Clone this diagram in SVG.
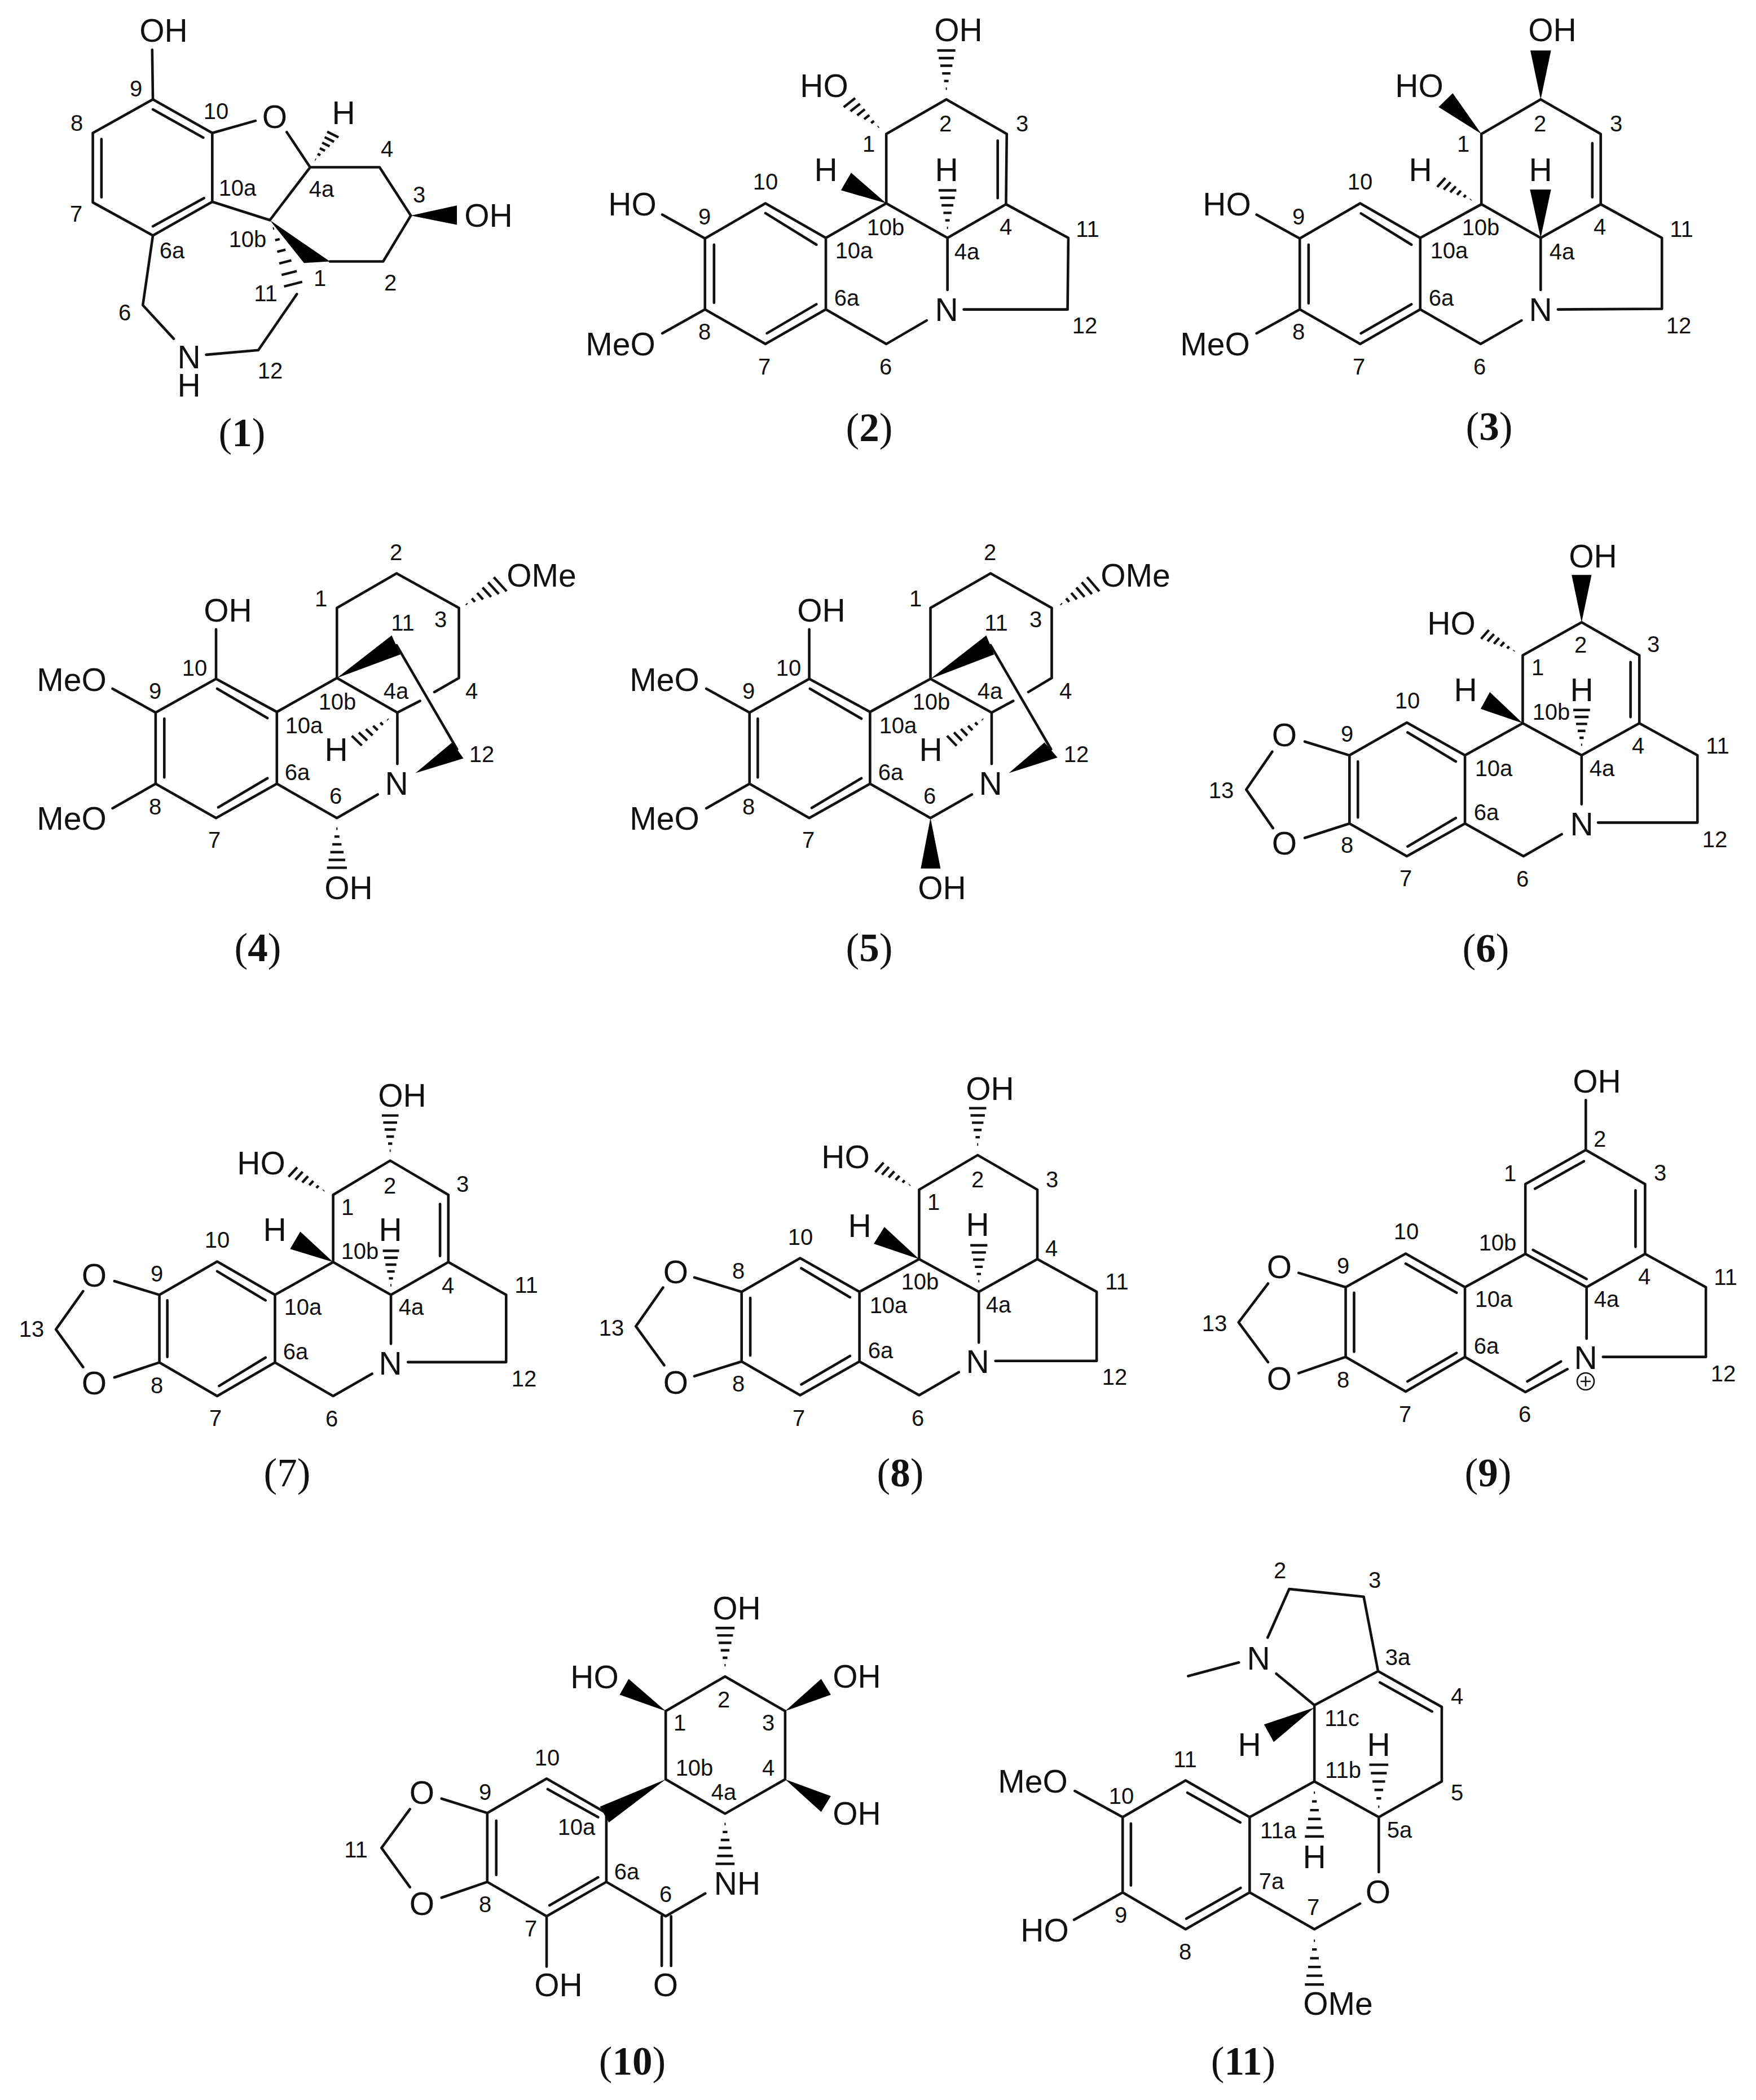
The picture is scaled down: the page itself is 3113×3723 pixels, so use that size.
<svg xmlns="http://www.w3.org/2000/svg" width="3113" height="3723" viewBox="0 0 3113 3723">
<style>
.bg{fill:#fff}
.b{fill:none;stroke:#111;stroke-width:4.6;vector-effect:non-scaling-stroke;stroke-linejoin:round;stroke-linecap:round}
.h{stroke-linecap:butt;stroke-width:4.4}
.w{fill:#000;stroke:none}
text{fill:#111;text-anchor:middle;font-family:"Liberation Sans",Arial,sans-serif}
.a{font-size:57px}
.n{font-size:40px}
.t{font-size:71px;font-family:"Liberation Serif","Times New Roman",serif}
.t tspan{font-weight:bold}
.c{fill:none;stroke:#111;stroke-width:2.6}
</style>
<defs>
<path id="h" class="b h" d="M-1.5-5H1.5M-6-30H6M-11-55H11M-16-80H16M-20-105H20M-24-130H24"/>
</defs>
<rect class="bg" width="3113" height="3723"/>
<g id="connectors">
<g id="bonds-1" transform="translate(0,0) scale(.6378,.5421)">
<path class="b" d="M425 325L590 435L590 660L425 770L258 662L258 435ZM425 358L565 450M282 455L282 645M567 648L425 740M423 163L425 325M590 435L710 395M797 432L862 547L1055 547L1142 705L1065 855L917 855M862 547L750 720L590 660M825 962L718 1145L573 1160M425 770L397 998L483 1108"/>
<polygon class="w" points="750,720 845,860 917,855"/><polygon class="w" points="1142,705 1270,672 1270,735"/>
<use href="#h" transform="translate(875,525) rotate(30.5) scale(.76)"/><use href="#h" transform="translate(758,740) rotate(163.3) scale(1.1,1.52)"/>
</g>
<g id="bonds-2" transform="translate(1000,0) scale(.6696,.5421)">
<path class="b" d="M853 665L853 438L1012 325L1172 438L1170 668L1015 778L853 665L693 778L533 665L373 780L373 1012L533 1125L693 1012L693 778M693 1012L853 1125L960 1048M1015 948L1015 778M1058 1012L1333 1012L1335 778L1170 668M1148 460L1148 648M533 697L668 800M397 800L397 990M537 1090L668 995M373 780L260 702M373 1012L260 1090"/>
<polygon class="w" points="853,665 733,622 760,565"/>
<use href="#h" transform="translate(1012,295)"/><use href="#h" transform="translate(835,418) rotate(-44) scale(.88)"/><use href="#h" transform="translate(1015,750) scale(.98)"/>
</g>
<g id="bonds-3" transform="translate(2050,0) scale(.6779,.5421)">
<path class="b" d="M850 668L850 438L1005 325L1162 438L1162 668L1005 778L850 668L690 778L533 665L375 780L375 1012L533 1125L690 1012L690 778M690 1012L848 1125L955 1048M1005 948L1005 778M1050 1012L1322 1010L1322 778L1162 668M1140 468L1140 645M535 698L667 800M398 800L398 992M535 1090L667 995M375 780L262 702M375 1012L262 1090"/>
<polygon class="w" points="1005,325 978,165 1032,165"/><polygon class="w" points="850,438 738,350 775,305"/><polygon class="w" points="1005,778 977,620 1032,620"/>
<use href="#h" transform="translate(825,655) rotate(-54) scale(.76)"/>
</g>
<g id="bonds-4" transform="translate(0,900) scale(.6696,.5421)">
<path class="b" d="M572 398L572 560L733 668L733 903L572 1015L412 903L412 670L572 560M575 592L708 688M435 690L435 882M578 980L708 885M733 668L892 557L892 328L1050 215L1215 328L1215 557L1150 603M1112 632L1052 670L892 557M1052 670L1052 838M1000 938L892 1015L733 903M1050 450L1210 790M412 670L298 592M412 903L298 983"/>
<polygon class="w" points="892,557 1037,418 1060,480"/><polygon class="w" points="1100,868 1197,768 1227,820"/>
<use href="#h" transform="translate(1030,690) rotate(-130.3) scale(.86)"/><use href="#h" transform="translate(1232,318) rotate(53.8) scale(1.2,.88)"/><use href="#h" transform="translate(892,1045) rotate(180) scale(1.1,1.02)"/>
</g>
<g id="bonds-5" transform="translate(1050,900) scale(.6378,.5421)">
<path class="b" d="M603 398L603 560L772 668L772 903L603 1015L437 903L437 670L603 560M605 592L748 690M460 690L460 882M610 982L748 885M772 668L940 560L940 328L1107 215L1277 328L1277 557L1212 603M1170 632L1110 670L940 560M1110 670L1110 838M1055 938L940 1015L772 903M1107 450L1275 790M437 670L317 592M437 903L317 983"/>
<polygon class="w" points="940,560 1095,418 1117,480"/><polygon class="w" points="1158,868 1257,768 1293,817"/><polygon class="w" points="940,1015 913,1180 968,1180"/>
<use href="#h" transform="translate(1088,690) rotate(-129.3) scale(.88)"/><use href="#h" transform="translate(1300,318) rotate(53.8) scale(1.2,.88)"/>
</g>
<g id="bonds-6" transform="translate(2050,900) scale(.6779,.5421)">
<path class="b" d="M958 705L958 483L1112 375L1263 483L1263 705L1112 810L958 705L807 810L655 703L505 810L505 1033L655 1140L807 1033L807 810M807 1033L960 1140L1060 1068M1112 970L1112 810M1155 1030L1415 1030L1415 810L1263 705M505 810L388 765M303 798L235 922L305 1048M388 1080L505 1033M527 830L527 1013M657 735L783 830M657 1108L783 1015M1240 505L1240 685"/>
<polygon class="w" points="1112,375 1086,220 1138,220"/><polygon class="w" points="958,705 848,658 872,603"/>
<use href="#h" transform="translate(938,470) rotate(-54.8) scale(.74)"/><use href="#h" transform="translate(1112,780) scale(.91)"/>
</g>
<g id="bonds-7" transform="translate(0,1850) scale(.6696,.5421)">
<path class="b" d="M882 715L882 495L1033 383L1187 495L1187 715L1035 822L882 715L728 822L575 713L422 822L422 1043L575 1153L728 1043L728 822M728 1043L882 1153L985 1080M1035 982L1035 822M1080 1042L1340 1042L1340 822L1187 715M422 822L303 777M220 810L148 935L220 1058M303 1092L422 1043M443 840L443 1025M575 745L703 840M580 1120L703 1027M1165 525L1165 695"/>
<polygon class="w" points="882,715 768,672 795,615"/>
<use href="#h" transform="translate(1033,355) scale(.92)"/><use href="#h" transform="translate(860,483) rotate(-53.5) scale(.81)"/><use href="#h" transform="translate(1035,795) scale(.9)"/>
</g>
<g id="bonds-8" transform="translate(1000,1850) scale(.6696,.5421)">
<path class="b" d="M940 705L940 478L1095 365L1253 478L1253 705L1098 812L940 705L782 812L625 702L470 812L470 1040L625 1150L782 1040L782 812M782 1040L940 1150L1045 1075M1098 978L1098 812M1142 1038L1410 1038L1410 812L1253 705M470 812L345 765M262 798L190 925L265 1052M345 1088L470 1040M493 832L493 1020M628 735L757 830M628 1115L757 1022"/>
<polygon class="w" points="940,705 820,655 848,600"/>
<use href="#h" transform="translate(1095,335) scale(.95)"/><use href="#h" transform="translate(918,465) rotate(-54.1) scale(.79)"/><use href="#h" transform="translate(1098,782) scale(.94)"/>
</g>
<g id="bonds-9" transform="translate(2050,1850) scale(.6779,.5421)">
<path class="b" d="M965 688L965 460L1123 348L1278 460L1278 688L1125 797L965 688L807 797L652 687L495 797L495 1025L652 1138L807 1025L807 797M807 1025L965 1140L1075 1065M970 1105L1058 1040M1125 965L1125 797M1168 1025L1437 1025L1437 797L1278 688M495 797L372 750M292 785L215 912L292 1042M372 1078L495 1025M517 815L517 1008M652 720L785 815M657 1105L785 1012M990 475L1118 385M1253 480L1253 665M985 675L1125 770M1123 185L1123 348"/>
</g>
<g id="bonds-10" transform="translate(550,2750) scale(.6378,.6205)">
<path class="b" d="M988 652L988 457L1153 358L1320 457L1320 652L1153 750L988 652M823 748L657 650L492 748L492 945L657 1043L823 945L823 748M492 748L365 707M277 737L198 848L277 960M365 990L492 945M517 770L517 925M660 680L800 760M665 1012L800 932M823 945L988 1043L1098 978M977 1043L977 1185M1003 1043L1003 1185M657 1043L657 1187"/>
<polygon class="w" points="988,652 805,730 830,775"/><polygon class="w" points="988,457 860,410 885,365"/><polygon class="w" points="1320,457 1420,365 1447,410"/><polygon class="w" points="1320,652 1447,700 1420,745"/>
<use href="#h" transform="translate(1153,775) rotate(180) scale(1.1,.91)"/><use href="#h" transform="translate(1153,330) scale(1.1,.85)"/>
</g>
<g id="bonds-11" transform="translate(1700,2750) scale(.6378,.6205)">
<path class="b" d="M988 440L1165 343L1342 445L1342 658L1167 760L988 658L988 440M1170 375L1315 458M988 658L808 760L630 655L455 760L455 975L630 1080L808 975L808 760M635 690L782 775M478 778L478 955M632 1050L783 962M808 975L988 1080L1115 1007M1167 917L1167 760M1165 343L1125 130L918 108L858 247M882 350L988 440M637 357L778 318M455 760L322 685M455 975L320 1053"/>
<polygon class="w" points="988,447 848,495 875,545"/>
<use href="#h" transform="translate(1167,735) scale(1.1,.96)"/><use href="#h" transform="translate(988,685) rotate(180) scale(1.1,1)"/><use href="#h" transform="translate(988,1108) rotate(180) scale(1.1,1)"/>
</g>
</g>
<g id="compound-1">
<text class="a" x="290" y="74">OH</text><text class="a" x="487" y="227">O</text><text class="a" x="609" y="220">H</text><text class="a" x="866" y="402">OH</text><text class="a" x="335" y="653">N<tspan x="335" dy="50">H</tspan></text>
<text class="n" x="241" y="171">9</text><text class="n" x="383" y="211">10</text><text class="n" x="136" y="232">8</text><text class="n" x="135" y="393">7</text><text class="n" x="305" y="458">6a</text><text class="n" x="421" y="347">10a</text><text class="n" x="439" y="438">10b</text><text class="n" x="570" y="349">4a</text><text class="n" x="686" y="278">4</text><text class="n" x="743" y="359">3</text><text class="n" x="567" y="507">1</text><text class="n" x="692" y="515">2</text><text class="n" x="471" y="534">11</text><text class="n" x="221" y="568">6</text><text class="n" x="479" y="671">12</text>
<text class="t" x="429" y="791">(<tspan>1</tspan>)</text>
</g>
<g id="compound-2">
<text class="a" x="1699" y="73">OH</text><text class="a" x="1461" y="172">HO</text><text class="a" x="1121" y="382">HO</text><text class="a" x="1100" y="630">MeO</text><text class="a" x="1464" y="321">H</text><text class="a" x="1678" y="321">H</text><text class="a" x="1678" y="569">N</text>
<text class="n" x="1357" y="336">10</text><text class="n" x="1249" y="398">9</text><text class="n" x="1249" y="602">8</text><text class="n" x="1355" y="664">7</text><text class="n" x="1570" y="664">6</text><text class="n" x="1501" y="542">6a</text><text class="n" x="1514" y="458">10a</text><text class="n" x="1570" y="417">10b</text><text class="n" x="1714" y="460">4a</text><text class="n" x="1783" y="416">4</text><text class="n" x="1812" y="233">3</text><text class="n" x="1676" y="233">2</text><text class="n" x="1540" y="269">1</text><text class="n" x="1928" y="420">11</text><text class="n" x="1923" y="591">12</text>
<text class="t" x="1541" y="782">(<tspan>2</tspan>)</text>
</g>
<g id="compound-3">
<text class="a" x="2752" y="73">OH</text><text class="a" x="2516" y="172">HO</text><text class="a" x="2175" y="382">HO</text><text class="a" x="2154" y="630">MeO</text><text class="a" x="2518" y="321">H</text><text class="a" x="2731" y="321">H</text><text class="a" x="2731" y="569">N</text>
<text class="n" x="2411" y="336">10</text><text class="n" x="2302" y="398">9</text><text class="n" x="2302" y="602">8</text><text class="n" x="2409" y="664">7</text><text class="n" x="2623" y="664">6</text><text class="n" x="2555" y="542">6a</text><text class="n" x="2569" y="458">10a</text><text class="n" x="2625" y="417">10b</text><text class="n" x="2769" y="460">4a</text><text class="n" x="2836" y="416">4</text><text class="n" x="2865" y="233">3</text><text class="n" x="2730" y="233">2</text><text class="n" x="2594" y="269">1</text><text class="n" x="2981" y="420">11</text><text class="n" x="2976" y="591">12</text>
<text class="t" x="2640" y="780">(<tspan>3</tspan>)</text>
</g>
<g id="compound-4">
<text class="a" x="404" y="1102">OH</text><text class="a" x="960" y="1040">OMe</text><text class="a" x="127" y="1225">MeO</text><text class="a" x="127" y="1471">MeO</text><text class="a" x="618" y="1594">OH</text><text class="a" x="596" y="1349">H</text><text class="a" x="703" y="1409">N</text>
<text class="n" x="702" y="993">2</text><text class="n" x="569" y="1075">1</text><text class="n" x="714" y="1118">11</text><text class="n" x="781" y="1112">3</text><text class="n" x="345" y="1198">10</text><text class="n" x="275" y="1239">9</text><text class="n" x="702" y="1239">4a</text><text class="n" x="836" y="1239">4</text><text class="n" x="598" y="1258">10b</text><text class="n" x="539" y="1300">10a</text><text class="n" x="854" y="1351">12</text><text class="n" x="527" y="1383">6a</text><text class="n" x="595" y="1425">6</text><text class="n" x="275" y="1444">8</text><text class="n" x="380" y="1503">7</text>
<text class="t" x="457" y="1704">(<tspan>4</tspan>)</text>
</g>
<g id="compound-5">
<text class="a" x="1456" y="1102">OH</text><text class="a" x="2013" y="1040">OMe</text><text class="a" x="1178" y="1225">MeO</text><text class="a" x="1178" y="1471">MeO</text><text class="a" x="1670" y="1594">OH</text><text class="a" x="1650" y="1349">H</text><text class="a" x="1756" y="1409">N</text>
<text class="n" x="1755" y="993">2</text><text class="n" x="1623" y="1075">1</text><text class="n" x="1766" y="1118">11</text><text class="n" x="1836" y="1112">3</text><text class="n" x="1398" y="1198">10</text><text class="n" x="1327" y="1239">9</text><text class="n" x="1755" y="1239">4a</text><text class="n" x="1889" y="1239">4</text><text class="n" x="1651" y="1258">10b</text><text class="n" x="1592" y="1300">10a</text><text class="n" x="1908" y="1351">12</text><text class="n" x="1579" y="1383">6a</text><text class="n" x="1648" y="1425">6</text><text class="n" x="1327" y="1444">8</text><text class="n" x="1433" y="1503">7</text>
<text class="t" x="1541" y="1704">(<tspan>5</tspan>)</text>
</g>
<g id="compound-6">
<text class="a" x="2277" y="1323">O</text><text class="a" x="2277" y="1515">O</text><text class="a" x="2804" y="1481">N</text><text class="a" x="2824" y="1006">OH</text><text class="a" x="2573" y="1125">HO</text><text class="a" x="2598" y="1243">H</text><text class="a" x="2804" y="1243">H</text>
<text class="n" x="2495" y="1256">10</text><text class="n" x="2388" y="1315">9</text><text class="n" x="2388" y="1512">8</text><text class="n" x="2492" y="1571">7</text><text class="n" x="2699" y="1572">6</text><text class="n" x="2635" y="1454">6a</text><text class="n" x="2648" y="1376">10a</text><text class="n" x="2750" y="1276">10b</text><text class="n" x="2840" y="1376">4a</text><text class="n" x="2904" y="1336">4</text><text class="n" x="2931" y="1156">3</text><text class="n" x="2802" y="1157">2</text><text class="n" x="2726" y="1197">1</text><text class="n" x="3045" y="1336">11</text><text class="n" x="3040" y="1502">12</text><text class="n" x="2165" y="1415">13</text>
<text class="t" x="2634" y="1705">(<tspan>6</tspan>)</text>
</g>
<g id="compound-7">
<text class="a" x="167" y="2281">O</text><text class="a" x="167" y="2472">O</text><text class="a" x="692" y="2437">N</text><text class="a" x="713" y="1962">OH</text><text class="a" x="463" y="2082">HO</text><text class="a" x="487" y="2200">H</text><text class="a" x="692" y="2200">H</text>
<text class="n" x="385" y="2212">10</text><text class="n" x="278" y="2272">9</text><text class="n" x="278" y="2470">8</text><text class="n" x="382" y="2528">7</text><text class="n" x="588" y="2529">6</text><text class="n" x="524" y="2410">6a</text><text class="n" x="537" y="2331">10a</text><text class="n" x="638" y="2232">10b</text><text class="n" x="729" y="2331">4a</text><text class="n" x="794" y="2293">4</text><text class="n" x="820" y="2113">3</text><text class="n" x="691" y="2116">2</text><text class="n" x="616" y="2154">1</text><text class="n" x="933" y="2292">11</text><text class="n" x="929" y="2458">12</text><text class="n" x="56" y="2370">13</text>
<text class="t" x="509" y="2635">(7)</text>
</g>
<g id="compound-8">
<text class="a" x="1198" y="2275">O</text><text class="a" x="1198" y="2471">O</text><text class="a" x="1733" y="2434">N</text><text class="a" x="1755" y="1950">OH</text><text class="a" x="1499" y="2071">HO</text><text class="a" x="1524" y="2193">H</text><text class="a" x="1733" y="2191">H</text>
<text class="n" x="1419" y="2207">10</text><text class="n" x="1309" y="2267">8</text><text class="n" x="1309" y="2467">8</text><text class="n" x="1416" y="2528">7</text><text class="n" x="1627" y="2528">6</text><text class="n" x="1561" y="2408">6a</text><text class="n" x="1575" y="2328">10a</text><text class="n" x="1631" y="2286">10b</text><text class="n" x="1770" y="2327">4a</text><text class="n" x="1864" y="2227">4</text><text class="n" x="1865" y="2105">3</text><text class="n" x="1733" y="2105">2</text><text class="n" x="1655" y="2145">1</text><text class="n" x="1980" y="2286">11</text><text class="n" x="1976" y="2455">12</text><text class="n" x="1084" y="2368">13</text>
<text class="t" x="1596" y="2635">(<tspan>8</tspan>)</text>
</g>
<g id="compound-9">
<text class="a" x="2268" y="2266">O</text><text class="a" x="2268" y="2464">O</text><text class="a" x="2811" y="2427">N</text><text class="a" x="2831" y="1937">OH</text>
<circle class="c" cx="2811" cy="2449" r="15"/><path class="c" d="M2802 2449H2820M2811 2440V2458"/>
<text class="n" x="2493" y="2197">10</text><text class="n" x="2381" y="2258">9</text><text class="n" x="2381" y="2460">8</text><text class="n" x="2491" y="2521">7</text><text class="n" x="2703" y="2521">6</text><text class="n" x="2635" y="2400">6a</text><text class="n" x="2648" y="2317">10a</text><text class="n" x="2655" y="2217">10b</text><text class="n" x="2848" y="2317">4a</text><text class="n" x="2915" y="2277">4</text><text class="n" x="2943" y="2093">3</text><text class="n" x="2836" y="2033">2</text><text class="n" x="2677" y="2094">1</text><text class="n" x="3059" y="2278">11</text><text class="n" x="3055" y="2449">12</text><text class="n" x="2153" y="2360">13</text>
<text class="t" x="2638" y="2635">(<tspan>9</tspan>)</text>
</g>
<g id="compound-10">
<text class="a" x="748" y="3198">O</text><text class="a" x="748" y="3395">O</text><text class="a" x="1307" y="3359">NH</text><text class="a" x="1180" y="3539">O</text><text class="a" x="990" y="3539">OH</text><text class="a" x="1306" y="2871">OH</text><text class="a" x="1054" y="2993">HO</text><text class="a" x="1519" y="2992">OH</text><text class="a" x="1519" y="3235">OH</text>
<text class="n" x="970" y="3130">10</text><text class="n" x="860" y="3191">9</text><text class="n" x="860" y="3390">8</text><text class="n" x="941" y="3433">7</text><text class="n" x="1180" y="3372">6</text><text class="n" x="1111" y="3332">6a</text><text class="n" x="1022" y="3253">10a</text><text class="n" x="1231" y="3148">10b</text><text class="n" x="1283" y="3191">4a</text><text class="n" x="1362" y="3148">4</text><text class="n" x="1362" y="3068">3</text><text class="n" x="1283" y="3027">2</text><text class="n" x="1205" y="3068">1</text><text class="n" x="631" y="3293">11</text>
<text class="t" x="1121" y="3678">(<tspan>10</tspan>)</text>
</g>
<g id="compound-11">
<text class="a" x="2231" y="2960">N</text><text class="a" x="2443" y="3374">O</text><text class="a" x="2215" y="3113">H</text><text class="a" x="2444" y="3113">H</text><text class="a" x="2330" y="3312">H</text><text class="a" x="2372" y="3572">OMe</text><text class="a" x="1831" y="3178">MeO</text><text class="a" x="1852" y="3442">HO</text>
<text class="n" x="2269" y="2798">2</text><text class="n" x="2437" y="2815">3</text><text class="n" x="2478" y="2952">3a</text><text class="n" x="2583" y="3021">4</text><text class="n" x="2583" y="3192">5</text><text class="n" x="2481" y="3258">5a</text><text class="n" x="2379" y="3060">11c</text><text class="n" x="2381" y="3152">11b</text><text class="n" x="2266" y="3259">11a</text><text class="n" x="2254" y="3349">7a</text><text class="n" x="2328" y="3395">7</text><text class="n" x="2101" y="3133">11</text><text class="n" x="1988" y="3198">10</text><text class="n" x="1987" y="3409">9</text><text class="n" x="2101" y="3474">8</text>
<text class="t" x="2204" y="3678">(<tspan>11</tspan>)</text>
</g>
</svg>
